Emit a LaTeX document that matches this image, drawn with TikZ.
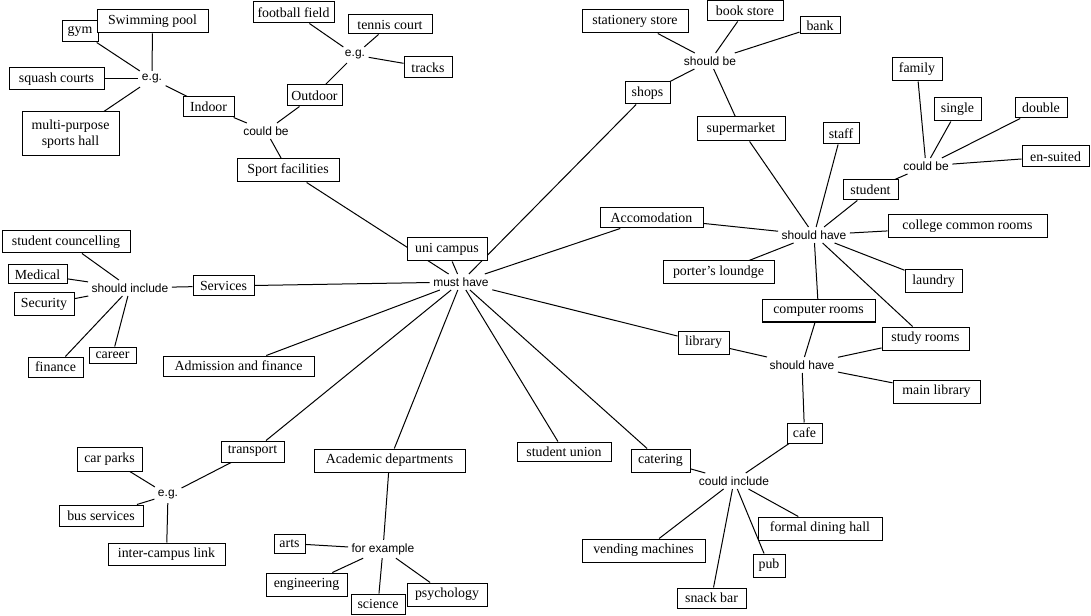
\documentclass[tikz,border=0pt]{standalone}
\usepackage{fontspec}
\setmainfont{Liberation Serif}
\newfontfamily\lblfont{Liberation Sans}
\usetikzlibrary{backgrounds}
\begin{document}
\begin{tikzpicture}[x=0.75pt,y=-0.75pt,
  box/.style 2 args={draw=black, line width=0.75pt, fill=white, inner sep=0pt,
    minimum width=#1*0.75pt, minimum height=#2*0.75pt,
    font=\fontsize{10.4}{12}\selectfont},
  lbl/.style={inner sep=2.5pt, font=\lblfont\fontsize{9}{10}\selectfont},
  conn/.style={draw=black, line width=0.75pt}]
\useasboundingbox (0,0) rectangle (1091,616);
% ---------- boxes ----------
\node[box={36}{21}] (gym) at (80,31.5) {gym};
\node[box={111}{23}] (swim) at (152.5,21.5) {Swimming pool};
\node[box={95}{22}] (squash) at (56.5,79) {squash courts};
\node[box={97}{44}, align=center] (multi) at (70.5,134) {multi-purpose\\sports hall};
\node[box={51}{20}] (indoor) at (208.5,107) {Indoor};
\node[box={55}{21}] (outdoor) at (314.5,95.5) {Outdoor};
\node[box={102}{23}] (sport) at (288,170.5) {Sport facilities};
\node[box={81}{21}] (football) at (293.5,12.5) {football field};
\node[box={84}{19}] (tennis) at (390,24.5) {tennis court};
\node[box={48}{21}] (tracks) at (428,67.5) {tracks};
\node[box={106}{23}] (stationery) at (635,21.5) {stationery store};
\node[box={76}{20}] (book) at (745,11) {book store};
\node[box={40}{17}] (bank) at (820,25.5) {bank};
\node[box={45}{22}] (shops) at (647.5,93) {shops};
\node[box={88}{24}] (supermarket) at (741,129) {supermarket};
\node[box={36}{21}] (staff) at (841,133.5) {staff};
\node[box={50}{23}] (family) at (917,69.5) {family};
\node[box={47}{23}] (single) at (957.5,109.5) {single};
\node[box={52}{20}] (double) at (1041,108) {double};
\node[box={67}{21}] (ensuited) at (1055.5,156.5) {en-suited};
\node[box={55}{20}] (student) at (870.5,190) {student};
\node[box={103}{20}] (accom) at (651.5,218) {Accomodation};
\node[box={159}{23}] (college) at (967.5,226.5) {college common rooms};
\node[box={111}{23}] (porter) at (718.5,272.5) {porter\char39 s loundge};
\node[box={57}{23}] (laundry) at (933.5,281.5) {laundry};
\node[box={113}{22}] (computer) at (818.5,311) {computer rooms};
\node[box={87}{23}] (study) at (925.5,338.5) {study rooms};
\node[box={51}{23}] (library) at (703.5,342.5) {library};
\node[box={87}{23}] (mainlib) at (936.5,391.5) {main library};
\node[box={35}{20}] (cafe) at (804.5,433) {cafe};
\node[box={94}{19}] (union) at (564,451.5) {student union};
\node[box={59}{23}] (catering) at (660.5,460.5) {catering};
\node[box={124}{23}] (formal) at (820,528.5) {formal dining hall};
\node[box={123}{23}] (vending) at (643.5,550.5) {vending machines};
\node[box={32}{23}] (pub) at (769,565.5) {pub};
\node[box={69}{20}] (snack) at (711.5,598) {snack bar};
\node[box={128}{22}] (counc) at (66,242) {student councelling};
\node[box={59}{19}] (medical) at (37.5,274.5) {Medical};
\node[box={60}{23}] (security) at (44,304.5) {Security};
\node[box={61}{20}] (services) at (223.5,286) {Services};
\node[box={55}{20}] (finance) at (55.5,367) {finance};
\node[box={47}{16}] (career) at (112.5,355) {career};
\node[box={151}{20}] (admission) at (238.5,366) {Admission and finance};
\node[box={80}{23}] (uni) at (447,249.5) {uni campus};
\node[box={65}{24}] (car) at (109.5,459) {car parks};
\node[box={63}{21}] (transport) at (252.5,451.5) {transport};
\node[box={84}{21}] (bus) at (101,515.5) {bus services};
\node[box={117}{22}] (inter) at (166.5,554) {inter-campus link};
\node[box={151}{23}] (academic) at (389.5,460.5) {Academic departments};
\node[box={31}{19}] (arts) at (289.5,543.5) {arts};
\node[box={81}{23}] (engineering) at (306.5,584.5) {engineering};
\node[box={54}{20}] (science) at (378,604) {science};
\node[box={80}{23}] (psychology) at (447,594.5) {psychology};
% ---------- link labels ----------
\node[lbl] (eg1) at (152,79) {e.g.};
\node[lbl] (cb1) at (266,131) {could be};
\node[lbl] (eg2) at (355,55) {e.g.};
\node[lbl] (sb) at (710,61) {should be};
\node[lbl] (cb2) at (926,166) {could be};
\node[lbl] (sh1) at (814,235) {should have};
\node[lbl] (sh2) at (802,365) {should have};
\node[lbl] (ci) at (734,481) {could include};
\node[lbl] (si) at (130,288) {should include};
\node[lbl] (mh) at (461,282) {must have};
\node[lbl] (eg3) at (168,495) {e.g.};
\node[lbl] (fe) at (383,549) {for example};
% ---------- connectors ----------
\begin{pgfonlayer}{background}
\fill[white] (0,0) rectangle (1091,616);
\draw[conn] (gym) -- (eg1);
\draw[conn] (swim) -- (eg1);
\draw[conn] (squash) -- (eg1);
\draw[conn] (multi) -- (eg1);
\draw[conn] (eg1) -- (indoor);
\draw[conn] (indoor) -- (cb1);
\draw[conn] (cb1) -- (outdoor);
\draw[conn] (cb1) -- (sport);
\draw[conn] (outdoor) -- (eg2);
\draw[conn] (football) -- (eg2);
\draw[conn] (tennis) -- (eg2);
\draw[conn] (eg2) -- (tracks);
\draw[conn] (sport) -- (mh);
\draw[conn] (uni) -- (mh);
\draw[conn] (shops) -- (mh);
\draw[conn] (stationery) -- (sb);
\draw[conn] (book) -- (sb);
\draw[conn] (bank) -- (sb);
\draw[conn] (shops) -- (sb);
\draw[conn] (sb) -- (supermarket);
\draw[conn] (supermarket) -- (sh1);
\draw[conn] (staff) -- (sh1);
\draw[conn] (student) -- (sh1);
\draw[conn] (family) -- (cb2);
\draw[conn] (single) -- (cb2);
\draw[conn] (double) -- (cb2);
\draw[conn] (ensuited) -- (cb2);
\draw[conn] (student) -- (cb2);
\draw[conn] (accom) -- (sh1);
\draw[conn] (sh1) -- (college);
\draw[conn] (porter) -- (sh1);
\draw[conn] (sh1) -- (laundry);
\draw[conn] (sh1) -- (computer);
\draw[conn] (sh1) -- (study);
\draw[conn] (accom) -- (mh);
\draw[conn] (library) -- (mh);
\draw[conn] (library) -- (sh2);
\draw[conn] (computer) -- (sh2);
\draw[conn] (sh2) -- (study);
\draw[conn] (sh2) -- (mainlib);
\draw[conn] (sh2) -- (cafe);
\draw[conn] (cafe) -- (ci);
\draw[conn] (catering) -- (ci);
\draw[conn] (ci) -- (vending);
\draw[conn] (ci) -- (snack);
\draw[conn] (ci) -- (pub);
\draw[conn] (ci) -- (formal);
\draw[conn] (mh) -- (union);
\draw[conn] (mh) -- (catering);
\draw[conn] (mh) -- (academic);
\draw[conn] (mh) -- (transport);
\draw[conn] (mh) -- (admission);
\draw[conn] (services) -- (mh);
\draw[conn] (counc) -- (si);
\draw[conn] (medical) -- (si);
\draw[conn] (security) -- (si);
\draw[conn] (si) -- (services);
\draw[conn] (finance) -- (si);
\draw[conn] (career) -- (si);
\draw[conn] (transport) -- (eg3);
\draw[conn] (car) -- (eg3);
\draw[conn] (bus) -- (eg3);
\draw[conn] (eg3) -- (inter);
\draw[conn] (academic) -- (fe);
\draw[conn] (arts) -- (fe);
\draw[conn] (fe) -- (engineering);
\draw[conn] (fe) -- (science);
\draw[conn] (fe) -- (psychology);
\end{pgfonlayer}
\end{tikzpicture}
\end{document}
